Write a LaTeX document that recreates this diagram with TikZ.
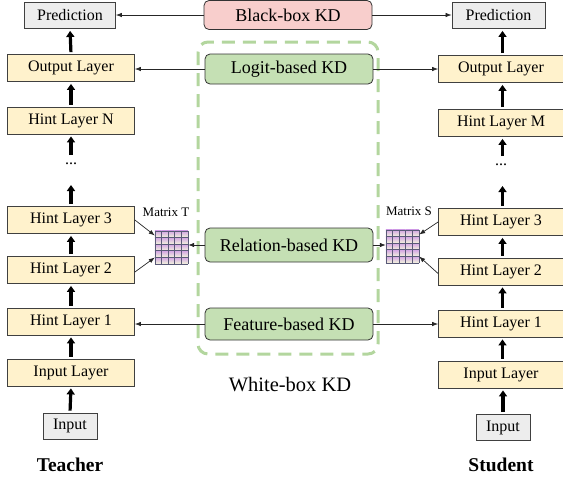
\documentclass[tikz,border=0pt]{standalone}
\usepackage{fontspec}
\setmainfont{Liberation Serif}
\usetikzlibrary{arrows.meta,calc}
\definecolor{layerfill}{HTML}{FFF2CC}
\definecolor{iofill}{HTML}{EDEDED}
\definecolor{blackfill}{HTML}{F8CECC}
\definecolor{whitefill}{HTML}{C5E0B4}
\definecolor{whiteedge}{HTML}{B3D69E}
\definecolor{celltop}{HTML}{D2A2E4}
\definecolor{cellbot}{HTML}{F2F3DC}
\definecolor{cellline}{HTML}{5A5A78}
\begin{document}
\begin{tikzpicture}[x=1pt,y=-1pt,
  box/.style={draw=black!75, line width=0.8pt, inner sep=0pt, font=\fontsize{16}{18}\selectfont},
  layer/.style={box, fill=layerfill, minimum width=127pt, minimum height=27pt},
  io/.style={box, fill=iofill, minimum height=26pt},
  kd/.style={draw=black!80, line width=0.8pt, rounded corners=5pt, inner sep=0pt,
             minimum width=168pt, font=\fontsize{18}{20}\selectfont},
  up/.style={-{Triangle[length=6pt,width=8pt]}, line width=3.2pt},
  link/.style={-{Latex[length=6pt,width=4.5pt]}, line width=0.7pt, black!85},
  mat/.style={minimum size=33pt, inner sep=0pt},
  matlabel/.style={font=\fontsize{13}{15}\selectfont},
  side/.style={font=\fontsize{19.5}{21}\selectfont\bfseries}
]
\useasboundingbox (0,0) rectangle (563,480);

% white-box region
\draw[whiteedge, line width=3pt, dash pattern=on 13pt off 8pt, rounded corners=10pt]
  (198,42) rectangle (378,354);
\node[font=\fontsize{20.5}{22}\selectfont] (wb) at (290,385) {White-box KD};

% teacher column
\node[io, minimum width=91pt] (predL) at (70,15.5) {Prediction};
\node[layer] (outL)   at (71,68)    {Output Layer};
\node[layer] (hintNL) at (71,120.5) {Hint Layer N};
\node[inner sep=0pt, font=\fontsize{16}{18}\selectfont] (dotsL) at (71,164) {...};
\node[layer] (hint3L) at (71,220)   {Hint Layer 3};
\node[layer] (hint2L) at (71,270)   {Hint Layer 2};
\node[layer] (hint1L) at (71,321.5) {Hint Layer 1};
\node[layer] (inL)    at (71,372.5) {Input Layer};
\node[io, minimum width=54pt] (inputL) at (70,426) {Input};
\node[side] (teacher) at (70,465) {Teacher};

% student column
\node[io, minimum width=93pt] (predR) at (498.5,15.5) {Prediction};
\node[layer, minimum width=125pt] (outR)   at (501,69)    {Output Layer};
\node[layer, minimum width=125pt] (hintMR) at (501,123)   {Hint Layer M};
\node[inner sep=0pt, font=\fontsize{16}{18}\selectfont] (dotsR) at (501,165) {...};
\node[layer, minimum width=125pt] (hint3R) at (501,222)   {Hint Layer 3};
\node[layer, minimum width=125pt] (hint2R) at (501,271.5) {Hint Layer 2};
\node[layer, minimum width=125pt] (hint1R) at (501,323.5) {Hint Layer 1};
\node[layer, minimum width=125pt] (inR)    at (501,374.5) {Input Layer};
\node[io, minimum width=54pt] (inputR) at (503,427.5) {Input};
\node[side] (student) at (501,465) {Student};

% distillation boxes
\node[kd, fill=blackfill, minimum height=29pt] (bb)    at (288,15)  {Black-box KD};
\node[kd, fill=whitefill, minimum height=30pt] (logit) at (289,69)  {Logit-based KD};
\node[kd, fill=whitefill, minimum height=34pt] (rel)   at (289,245) {Relation-based KD};
\node[kd, fill=whitefill, minimum height=32pt] (feat)  at (289,324) {Feature-based KD};

% relation matrices
\node[mat] (matT) at (171.5,247.5) {};
\node[mat] (matS) at (402.5,246.5) {};
\foreach \m in {matT,matS}{
  \foreach \i in {0,...,4}{
    \foreach \j in {0,...,4}{
      \shade[top color=celltop, bottom color=cellbot]
        ($(\m.north west)+(\i*6.6,\j*6.6)$) rectangle ++(6.6,6.6);
    }
  }
  \foreach \k in {0,...,5}{
    \draw[cellline, line width=0.6pt] ($(\m.north west)+(\k*6.6,0)$) -- ++(0,33);
    \draw[cellline, line width=0.6pt] ($(\m.north west)+(0,\k*6.6)$) -- ++(33,0);
  }
}
\node[matlabel] (labT) at (166,212) {Matrix T};
\node[matlabel] (labS) at (409,211) {Matrix S};

% forward passes (teacher)
\foreach \a/\b in {inputL/inL, inL/hint1L, hint1L/hint2L, hint2L/hint3L, hintNL/outL, outL/predL}{
  \draw[up, shorten <=2pt, shorten >=2pt] (\a.north) -- (\b.south);
}
\draw[up] ($(hint3L.north)+(0,-2)$) -- ($(dotsL)+(0,21)$);
\draw[up] ($(dotsL)+(0,-9)$) -- ($(hintNL.south)+(0,2)$);

% forward passes (student)
\foreach \a/\b in {inR/hint1R, hint1R/hint2R, hint2R/hint3R, hintMR/outR, outR/predR}{
  \draw[up, shorten <=2pt, shorten >=2pt] ([xshift=1.5pt]\a.north) -- ([xshift=1.5pt]\a.north |- \b.south);
}
\draw[up, shorten <=2pt, shorten >=2pt] (inputR.north) -- (inR.south -| inputR.north);
\draw[up] ($(hint3R.north)+(1.5,-2)$) -- ($(dotsR)+(1.5,21)$);
\draw[up] ($(dotsR)+(1.5,-9)$) -- ($(hintMR.south)+(1.5,2)$);

% knowledge transfer links
\draw[link] (bb.west) -- (bb.west -| predL.east);
\draw[link] (bb.east) -- (bb.east -| predR.west);
\draw[link] (logit.west) -- (logit.west -| outL.east);
\draw[link] (logit.east) -- (logit.east -| outR.west);
\draw[link] (feat.west) -- (feat.west -| hint1L.east);
\draw[link] (feat.east) -- (feat.east -| hint1R.west);
\draw[link] (rel.west) -- (rel.west -| matT.east);
\draw[link] (rel.east) -- (rel.east -| matS.west);
\draw[link] (hint3L.east) -- ([yshift=12pt]matT.west);
\draw[link] ([yshift=-2pt]hint2L.east) -- ([yshift=-10pt]matT.west);
\draw[link] (hint3R.west) -- ([yshift=12pt]matS.east);
\draw[link] ([yshift=-2pt]hint2R.west) -- ([yshift=-10pt]matS.east);
\end{tikzpicture}
\end{document}
